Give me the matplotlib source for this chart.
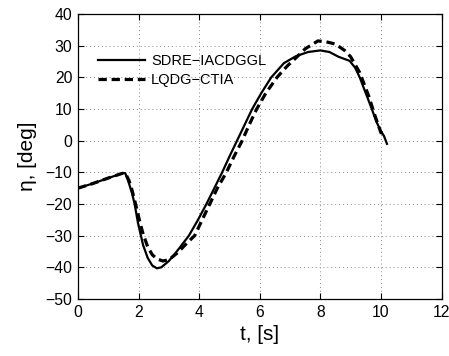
import matplotlib
matplotlib.use("Agg")
import matplotlib.pyplot as plt

plt.rcParams['font.family'] = ['Liberation Sans', 'DejaVu Sans']

t_sdre = [0.0, 0.5, 1.0, 1.5, 1.56, 1.65, 1.78, 1.87, 1.98, 2.15, 2.3, 2.45, 2.6, 2.75, 3.0, 3.3, 3.66,
          3.95, 4.24, 4.5, 4.76, 5.0, 5.25, 5.5, 5.75, 6.05, 6.38, 6.8, 7.2, 7.6, 8.0, 8.3,
          8.6, 8.97, 9.15, 9.3, 9.5, 9.7, 9.85, 10.0, 10.1, 10.2]
v_sdre = [-15.0, -13.5, -11.8, -10.2, -10.3, -12.5, -16.5, -20.0, -26.0, -33.0, -37.0, -39.4, -40.3, -40.0,
          -38.0, -34.5, -30.0, -25.2, -20.0, -15.0, -10.0, -5.0, 0.0, 5.0, 10.0, 15.0, 20.0,
          24.5, 26.7, 28.0, 28.5, 28.0, 26.5, 25.2, 23.0, 20.0, 15.0, 10.0, 6.0, 3.0, 1.5, -1.0]

t_lqdg = [0.0, 0.5, 1.0, 1.5, 1.58, 1.68, 1.78, 1.9, 2.05, 2.15, 2.3, 2.45, 2.6, 2.8, 3.0, 3.3, 3.6,
          3.85, 4.1, 4.35, 4.6, 4.9, 5.15, 5.42, 5.65, 5.9, 6.2, 6.57, 6.9, 7.2, 7.5, 7.92,
          8.2, 8.5, 8.8, 9.0, 9.3, 9.6, 9.8, 10.0, 10.1]
v_lqdg = [-15.0, -13.5, -11.8, -10.2, -10.6, -12.5, -15.5, -20.0, -26.0, -29.5, -33.5, -36.0, -37.3, -38.0,
          -37.6, -35.3, -32.3, -30.0, -25.0, -20.0, -15.0, -10.0, -5.0, 0.0, 5.0, 10.0, 15.0,
          20.0, 23.5, 26.2, 29.0, 31.5, 31.2, 30.5, 28.5, 26.5, 21.5, 14.0, 8.0, 2.5, 2.5]

x_ticks = [0, 2, 4, 6, 8, 10, 12]
y_ticks = [-50, -40, -30, -20, -10, 0, 10, 20, 30, 40]

fig = plt.figure(figsize=(4.49, 3.56), dpi=100)
ax = fig.add_axes([78/449, 1 - 299/356, (441.5-78)/449, (299-14)/356])

ax.plot(t_sdre, v_sdre, color='black', lw=1.6, ls='-', label='SDRE\u2212IACDGGL')
ax.plot(t_lqdg, v_lqdg, color='black', lw=2.3, ls=(0, (2.6, 1.5)), label='LQDG\u2212CTIA')

ax.set_xlim(0, 12)
ax.set_ylim(-50, 40)
ax.set_xticks(x_ticks)
ax.set_yticks(y_ticks)
ax.set_xticklabels([str(v) for v in x_ticks])
ax.set_yticklabels([str(v).replace('-', '\u2212') for v in y_ticks])
ax.tick_params(direction='in', labelsize=11.3, length=4, width=0.8, top=True, right=True, pad=4)
ax.grid(True, color='#888888', ls=(0, (1, 3)), lw=0.7)
for s in ax.spines.values():
    s.set_linewidth(0.9)

ax.set_xlabel('t, [s]', fontsize=15, labelpad=4)
ax.set_ylabel('\u03b7, [deg]', fontsize=15, labelpad=6)

ax.legend(loc='upper left', bbox_to_anchor=(0.02, 0.905), frameon=False, fontsize=10.5,
          handlelength=3.2, handletextpad=0.4, labelspacing=0.35)

fig.savefig('out.png', dpi=100)
